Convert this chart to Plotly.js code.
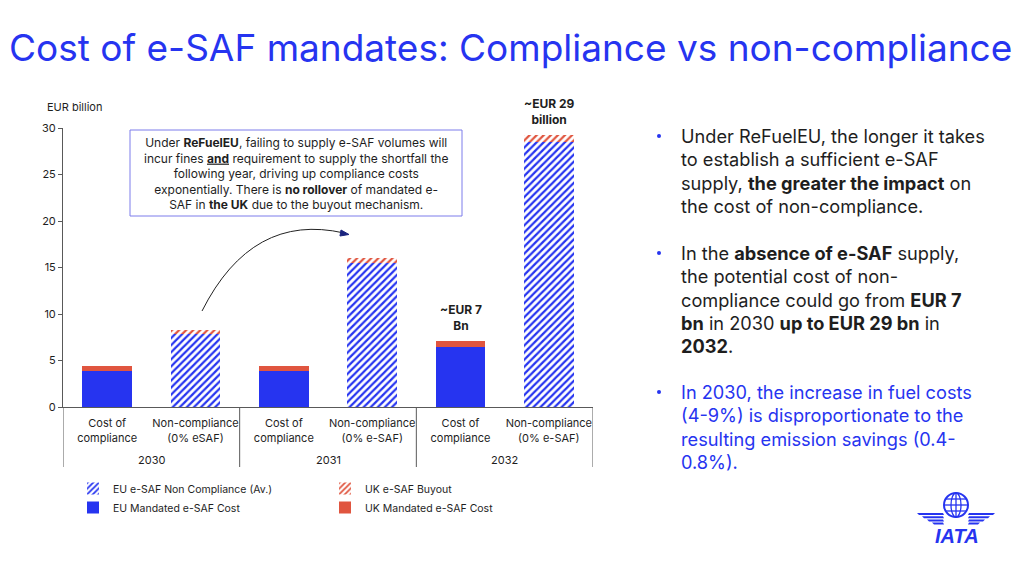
<!DOCTYPE html>
<html>
<head>
<meta charset="utf-8">
<script src="https://cdn.plot.ly/plotly-3.0.1.min.js"></script>
<style>
  html, body { margin: 0; padding: 0; background: #ffffff; }
  #chart { width: 1024px; height: 574px; }
</style>
</head>
<body>
<div id="chart"></div>
<script>
// ---- data (EUR billion) ----
const years = ['2030', '2030', '2031', '2031', '2032', '2032'];
const scenarios = [
  'Cost of<br>compliance', 'Non-compliance<br>(0% eSAF)',
  'Cost of<br>compliance', 'Non-compliance<br>(0% e-SAF)',
  'Cost of<br>compliance', 'Non-compliance<br>(0% e-SAF)'
];
const euMandatedCost   = [3.9, null, 3.9, null, 6.4, null];
const ukMandatedCost   = [0.5, null, 0.5, null, 0.7, null];
const euNonCompliance  = [null, 7.8, null, 15.5, null, 28.5];
const ukBuyout         = [null, 0.5, null, 0.5, null, 0.7];
const totalLabels = ['', '', '', '', '~EUR 7<br>Bn', '~EUR 29<br>billion'];

const BLUE = '#2634F0';
const RED = '#E0553F';
const INK = '#1E1E1E';
const AXIS = '#595959';
const FONT = 'Inter, "Noto Sans", sans-serif';

// plot-area frame in page pixels, used to place the slide text around the chart
const L = 63, R = 593, T = 128, B = 407;
const xp = px => (px - L) / (R - L);
const yp = py => (B - py) / (B - T);
const pt = (x, y) => xp(x).toFixed(4) + ',' + yp(y).toFixed(4);

const idx = years.map((_, i) => i);

const hatch = color => ({
  shape: '/', fgcolor: color, bgcolor: '#ffffff', size: 5, solidity: 0.45
});

const traces = [
  {
    type: 'bar', name: 'EU Mandated e-SAF Cost', x: idx, y: euMandatedCost,
    marker: { color: BLUE, line: { width: 0 } }, legendrank: 3
  },
  {
    type: 'bar', name: 'UK Mandated e-SAF Cost', x: idx, y: ukMandatedCost,
    marker: { color: RED, line: { width: 0 } }, legendrank: 4
  },
  {
    type: 'bar', name: 'EU e-SAF Non Compliance (Av.)', x: idx, y: euNonCompliance,
    marker: { color: '#ffffff', pattern: hatch(BLUE), line: { width: 0 } }, legendrank: 1
  },
  {
    type: 'bar', name: 'UK e-SAF Buyout', x: idx, y: ukBuyout,
    marker: { color: '#ffffff', pattern: hatch(RED), line: { width: 0 } }, legendrank: 2
  }
];

// stacked totals for the value call-outs above the 2032 bars
const totals = idx.map(i =>
  (euMandatedCost[i] || 0) + (ukMandatedCost[i] || 0) +
  (euNonCompliance[i] || 0) + (ukBuyout[i] || 0));

// year groups: centre and edges in category units
const groups = [];
years.forEach((yr, i) => {
  const g = groups[groups.length - 1];
  if (g && g.year === yr) g.last = i; else groups.push({ year: yr, first: i, last: i });
});

const annotations = [];
const shapes = [];

// slide title
annotations.push({
  xref: 'paper', yref: 'paper', x: xp(7), y: yp(48), xanchor: 'left', yanchor: 'middle',
  text: 'Cost of e-SAF mandates: Compliance vs non-compliance', showarrow: false,
  font: { family: FONT, size: 37, color: BLUE }
});

// axis unit
annotations.push({
  xref: 'paper', yref: 'paper', x: xp(45), y: yp(107), xanchor: 'left', yanchor: 'middle',
  text: 'EUR billion', showarrow: false, font: { family: FONT, size: 11, color: INK }
});

// year group labels and dividers
groups.forEach(g => {
  annotations.push({
    xref: 'x', yref: 'paper', x: (g.first + g.last) / 2, y: yp(460), yanchor: 'middle',
    text: g.year, showarrow: false, font: { family: FONT, size: 11, color: INK }
  });
});
const edges = [groups[0].first - 0.5].concat(groups.map(g => g.last + 0.5));
edges.forEach(e => {
  shapes.push({ type: 'line', xref: 'x', yref: 'paper', x0: e, x1: e, y0: 0, y1: yp(467),
    line: { color: AXIS, width: 1 } });
});

// value call-outs
totalLabels.forEach((t, i) => {
  if (!t) return;
  annotations.push({
    xref: 'x', yref: 'y', x: i, y: totals[i], yanchor: 'bottom', yshift: 6,
    text: '<b>' + t + '</b>', showarrow: false,
    font: { family: FONT, size: 12, color: INK }
  });
});

// explanatory box text
annotations.push({
  xref: 'paper', yref: 'paper', x: xp(296), y: yp(173), xanchor: 'center', yanchor: 'middle',
  align: 'center', showarrow: false,
  text: 'Under <b>ReFuelEU</b>, failing to supply e-SAF volumes will<br>' +
        'incur fines <b><span style="text-decoration:underline">and</span></b> requirement to supply the shortfall the<br>' +
        'following year, driving up compliance costs<br>' +
        'exponentially. There is <b>no rollover</b> of mandated e-<br>' +
        'SAF in <b>the UK</b> due to the buyout mechanism.',
  font: { family: FONT, size: 12, color: INK }
});

// right-hand commentary
const bullets = [
  { y0: 136, color: INK, lines: [
    'Under ReFuelEU, the longer it takes',
    'to establish a sufficient e-SAF',
    'supply, <b>the greater the impact</b> on',
    'the cost of non-compliance.'] },
  { y0: 253, color: INK, lines: [
    'In the <b>absence of e-SAF</b> supply,',
    'the potential cost of non-',
    'compliance could go from <b>EUR 7</b>',
    '<b>bn</b> in 2030 <b>up to EUR 29 bn</b> in',
    '<b>2032</b>.'] },
  { y0: 392, color: BLUE, lines: [
    'In 2030, the increase in fuel costs',
    '(4-9%) is disproportionate to the',
    'resulting emission savings (0.4-',
    '0.8%).'] }
];
const LINE = 23.3;
bullets.forEach(b => {
  shapes.push({ type: 'circle', xref: 'paper', yref: 'paper',
    x0: xp(657), x1: xp(661), y0: yp(b.y0 - 2), y1: yp(b.y0 + 2),
    fillcolor: BLUE, line: { width: 0 } });
  b.lines.forEach((ln, k) => {
    annotations.push({
      xref: 'paper', yref: 'paper', x: xp(679), y: yp(b.y0 + k * LINE),
      xanchor: 'left', yanchor: 'middle', align: 'left', text: ln, showarrow: false,
      font: { family: FONT, size: 18.2, color: b.color }
    });
  });
});

// IATA wordmark
annotations.push({
  xref: 'paper', yref: 'paper', x: xp(957), y: yp(536), xanchor: 'center', yanchor: 'middle',
  text: '<b><i>IATA</i></b>', showarrow: false,
  font: { family: '"Liberation Sans", Arial, sans-serif', size: 20, color: BLUE }
});

// explanatory box
shapes.push({ type: 'rect', xref: 'paper', yref: 'paper', x0: xp(130), x1: xp(462), y0: yp(130), y1: yp(216),
  line: { color: '#7C7CEB', width: 1 }, fillcolor: 'rgba(0,0,0,0)' });
// curved arrow from 2030 non-compliance towards 2031 non-compliance
shapes.push({ type: 'path', xref: 'paper', yref: 'paper',
  path: 'M' + pt(202, 311) + ' Q' + pt(252, 212) + ' ' + pt(344, 233),
  line: { color: '#222222', width: 1 } });
shapes.push({ type: 'path', xref: 'paper', yref: 'paper',
  path: 'M' + pt(349, 234.5) + ' L' + pt(341, 230) + ' L' + pt(340, 236) + ' Z',
  fillcolor: '#1a237e', line: { color: '#1a237e', width: 1 } });
// IATA globe
shapes.push(
  { type: 'circle', xref: 'paper', yref: 'paper', x0: xp(944), x1: xp(968), y0: yp(493), y1: yp(517),
    line: { color: BLUE, width: 2 }, fillcolor: 'rgba(0,0,0,0)' },
  { type: 'circle', xref: 'paper', yref: 'paper', x0: xp(951), x1: xp(961), y0: yp(493), y1: yp(517),
    line: { color: BLUE, width: 1.3 }, fillcolor: 'rgba(0,0,0,0)' },
  { type: 'line', xref: 'paper', yref: 'paper', x0: xp(956), x1: xp(956), y0: yp(493), y1: yp(517),
    line: { color: BLUE, width: 1.3 } },
  { type: 'line', xref: 'paper', yref: 'paper', x0: xp(944), x1: xp(968), y0: yp(505), y1: yp(505),
    line: { color: BLUE, width: 1.3 } },
  { type: 'line', xref: 'paper', yref: 'paper', x0: xp(946), x1: xp(966), y0: yp(499), y1: yp(499),
    line: { color: BLUE, width: 1.3 } },
  { type: 'line', xref: 'paper', yref: 'paper', x0: xp(946), x1: xp(966), y0: yp(511), y1: yp(511),
    line: { color: BLUE, width: 1.3 } }
);
// IATA wings
[0, 1, 2, 3].forEach(k => {
  const y = 513 + k * 3.2;
  shapes.push({ type: 'path', xref: 'paper', yref: 'paper',
    path: 'M' + pt(917 + k * 5, y) + ' L' + pt(943, y) + ' L' + pt(944, y + 2) + ' L' + pt(919 + k * 5, y + 2) + ' Z',
    fillcolor: BLUE, line: { width: 0 } });
  shapes.push({ type: 'path', xref: 'paper', yref: 'paper',
    path: 'M' + pt(995 - k * 5, y) + ' L' + pt(969, y) + ' L' + pt(968, y + 2) + ' L' + pt(993 - k * 5, y + 2) + ' Z',
    fillcolor: BLUE, line: { width: 0 } });
});

const layout = {
  width: 1024, height: 574,
  margin: { l: L, r: 1024 - R, t: T, b: 574 - B, pad: 0 },
  paper_bgcolor: '#ffffff', plot_bgcolor: '#ffffff',
  barmode: 'stack', bargap: 0.44,
  font: { family: FONT, size: 11, color: INK },
  showlegend: true,
  legend: {
    orientation: 'h', x: xp(73), y: yp(474), xanchor: 'left', yanchor: 'top',
    entrywidth: 207, entrywidthmode: 'pixels', itemwidth: 30,
    font: { family: FONT, size: 10.5, color: INK }, traceorder: 'normal',
    bgcolor: 'rgba(0,0,0,0)'
  },
  xaxis: {
    range: [-0.5, years.length - 0.5], tickvals: idx, ticktext: scenarios,
    showline: true, linecolor: AXIS, linewidth: 1,
    showgrid: false, zeroline: false, ticks: '', ticklabelstandoff: 6,
    tickfont: { family: FONT, size: 11, color: INK }
  },
  yaxis: {
    range: [0, 30], tickvals: [0, 5, 10, 15, 20, 25, 30], showline: true,
    linecolor: AXIS, linewidth: 1, ticks: 'outside', ticklen: 4, tickcolor: AXIS,
    showgrid: false, zeroline: false,
    tickfont: { family: FONT, size: 11, color: INK }
  },
  annotations: annotations,
  shapes: shapes,
  hovermode: false
};

Plotly.newPlot('chart', traces, layout, { displayModeBar: false, staticPlot: true });
</script>
</body>
</html>
